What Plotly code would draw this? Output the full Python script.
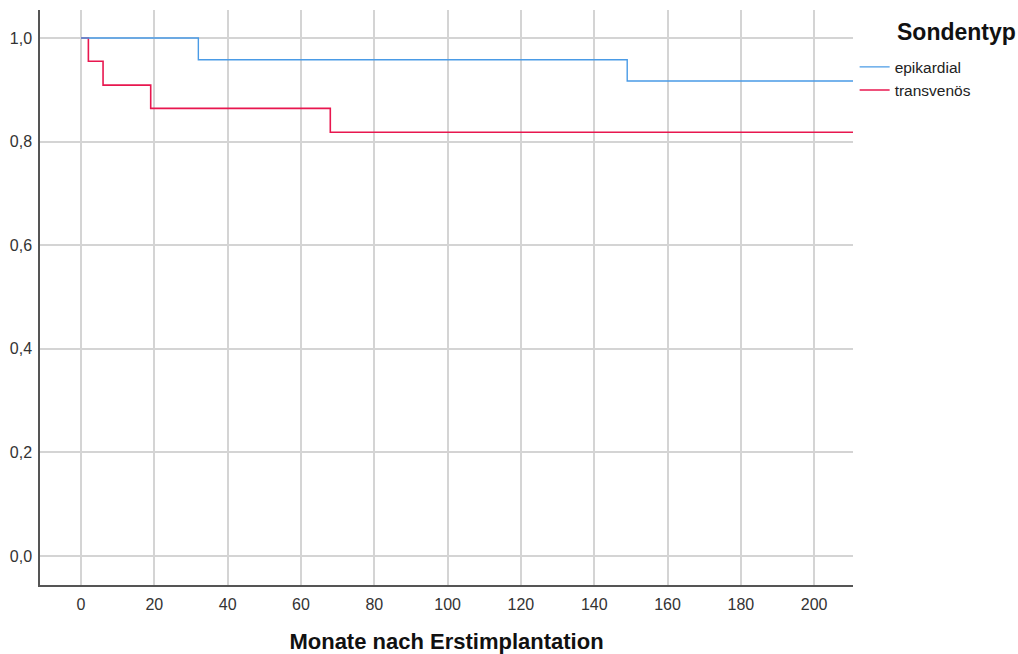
import plotly.graph_objects as go

# Kaplan-Meier step data (months, survival)
epi_time = [0, 32, 149, 212]
epi_surv = [1.0, 0.958, 0.917, 0.917]
trans_time = [0, 2, 6, 19, 68, 212]
trans_surv = [1.0, 0.955, 0.909, 0.864, 0.818, 0.818]

x_ticks = [0, 20, 40, 60, 80, 100, 120, 140, 160, 180, 200]
y_ticks = [0.0, 0.2, 0.4, 0.6, 0.8, 1.0]
y_labels = ["0,0", "0,2", "0,4", "0,6", "0,8", "1,0"]

fig = go.Figure()
fig.add_trace(go.Scatter(x=trans_time, y=trans_surv, mode="lines", name="transvenös",
                         line=dict(color="#e8174f", width=1.6, shape="hv"), legendrank=2))
fig.add_trace(go.Scatter(x=epi_time, y=epi_surv, mode="lines", name="epikardial",
                         line=dict(color="#4a9be6", width=1.4, shape="hv"), legendrank=1))

fig.update_layout(
    width=1018, height=654,
    margin=dict(l=40, r=165, t=10, b=69),
    plot_bgcolor="white", paper_bgcolor="white",
    font=dict(family="Liberation Sans, Arial, sans-serif", size=16, color="#333333"),
    showlegend=True,
    legend=dict(x=1.002, y=0.93, xanchor="left", yanchor="top",
                font=dict(size=15.5, color="#222222"), tracegroupgap=0, itemwidth=30),
    xaxis=dict(range=[-11.2, 210.6], tickvals=x_ticks, showgrid=True, gridcolor="#d4d4d4", gridwidth=2,
               zeroline=False, showline=True, linecolor="#555555", linewidth=1.5, ticks="",
               ticklabelstandoff=4, automargin=False,
               title=dict(text="<b>Monate nach Erstimplantation</b>", font=dict(size=22, color="#111111"), standoff=28)),
    yaxis=dict(range=[-0.056, 1.054], tickvals=y_ticks, ticktext=y_labels, showgrid=True, gridcolor="#d4d4d4", gridwidth=2,
               zeroline=False, showline=True, linecolor="#555555", linewidth=1.5, ticks="", ticklabelstandoff=3,
               automargin=False),
    annotations=[dict(text="<b>Sondentyp</b>", xref="paper", yref="paper", x=1.0, xshift=42, y=1.0, yshift=-22,
                      xanchor="left", yanchor="middle", showarrow=False,
                      font=dict(size=23, color="#111111"))],
)

fig.write_html("out.html")
